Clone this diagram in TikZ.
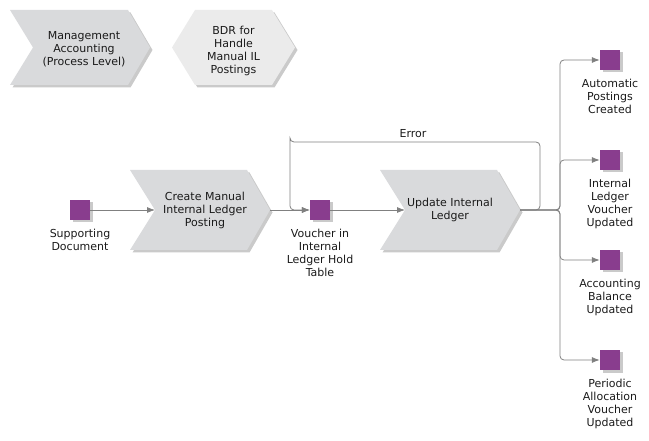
\documentclass[tikz,border=0pt]{standalone}
\usepackage{fontspec}
\setmainfont{DejaVu Sans}
\usetikzlibrary{arrows.meta,shadows}
\definecolor{chevgray}{HTML}{D9DADC}
\definecolor{hexgray}{HTML}{EBEBEB}
\definecolor{evpurple}{HTML}{893D8E}
\definecolor{linegray}{HTML}{808080}
\definecolor{txtcol}{HTML}{1A1A1A}
\tikzset{
  shapeshadow/.style={drop shadow={shadow xshift=2.5pt,shadow yshift=-2.5pt,fill=black!35,opacity=.6}},
  chev/.style={fill=chevgray,shapeshadow},
  hexa/.style={fill=hexgray,shapeshadow},
  txt/.style={align=center,inner sep=0pt,text=txtcol,font=\fontsize{11}{13}\selectfont},
  evsq/.style={fill=evpurple,minimum size=20pt,inner sep=0pt,draw=none,shapeshadow},
  lbl/.style={txt,anchor=north,yshift=-8.5pt},
  conn/.style={draw=linegray,line width=0.8pt,rounded corners=4pt,-{Latex[length=8pt,width=6pt]}}
}
\begin{document}
\begin{tikzpicture}[x=1pt,y=-1pt]
\useasboundingbox (0,0) rectangle (649,441);
% top shapes
\path[chev] (10,10) -- (128,10) -- (150,47.5) -- (128,85) -- (10,85) -- (33,47.5) -- cycle;
\node[txt] (ma) at (84,49) {Management\\Accounting\\(Process Level)};
\path[hexa] (172,47.5) -- (195,10) -- (272,10) -- (295,47.5) -- (272,85) -- (195,85) -- cycle;
\node[txt] (bdr) at (233.5,51) {BDR for\\Handle\\Manual IL\\Postings};
% process chevrons
\path[chev] (130,170) -- (247,170) -- (270,210) -- (247,250) -- (130,250) -- (155,210) -- cycle;
\node[txt] (cm) at (205,210) {Create Manual\\Internal Ledger\\Posting};
\coordinate (cmL) at (155,210);
\coordinate (cmR) at (270,210);
\path[chev] (380,170) -- (497,170) -- (520,210) -- (497,250) -- (380,250) -- (405,210) -- cycle;
\node[txt] (ui) at (450,210) {Update Internal\\Ledger};
\coordinate (uiL) at (405,210);
\coordinate (uiR) at (520,210);
% events
\node[evsq] (sd) at (80,210) {};
\node[lbl] (sdl) at (sd.south) {Supporting\\Document};
\node[evsq] (vo) at (320,210) {};
\node[lbl] (vol) at (vo.south) {Voucher in\\Internal\\Ledger Hold\\Table};
\node[evsq] (ap) at (610,60) {};
\node[lbl] (apl) at (ap.south) {Automatic\\Postings\\Created};
\node[evsq] (ilv) at (610,160) {};
\node[lbl] (ilvl) at (ilv.south) {Internal\\Ledger\\Voucher\\Updated};
\node[evsq] (ab) at (610,260) {};
\node[lbl] (abl) at (ab.south) {Accounting\\Balance\\Updated};
\node[evsq] (pa) at (610,360) {};
\node[lbl] (pal) at (pa.south) {Periodic\\Allocation\\Voucher\\Updated};
% connectors
\draw[conn] (sd.east) -- (cmL);
\draw[conn] (cmR) -- (vo.west);
\draw[conn] (vo.east) -- (uiL);
\coordinate (eR) at (540,142);
\coordinate (eL) at (290,142);
\draw[conn] (uiR) -| (eR) -| (eL) |- (vo.west);
\node[txt] (err) at (413,134) {Error};
\coordinate (jn) at (560,210);
\draw[conn] (uiR) -- (jn) |- (ap.west);
\draw[conn] (uiR) -- (jn) |- (ilv.west);
\draw[conn] (uiR) -- (jn) |- (ab.west);
\draw[conn] (uiR) -- (jn) |- (pa.west);
\end{tikzpicture}
\end{document}
